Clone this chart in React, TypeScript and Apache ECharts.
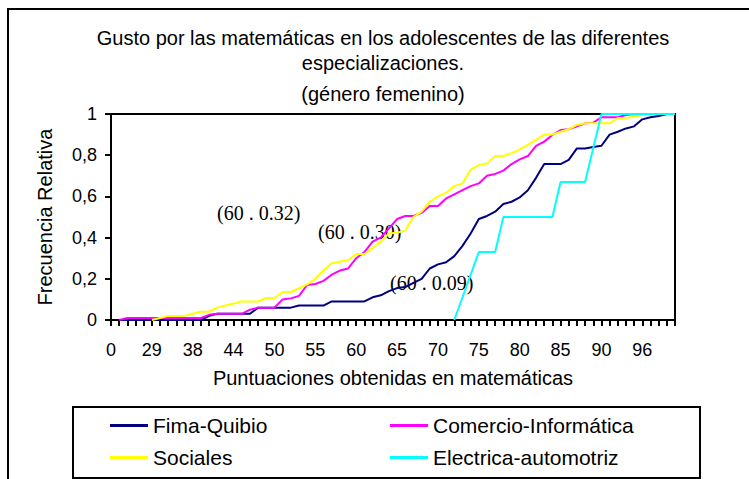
import React, { useEffect, useRef } from "react";
import * as echarts from "echarts";

const categories = [
  "0", "20", "24", "26", "28", "29", "31", "33", "35", "36",
  "38", "39", "40", "41", "43", "44", "45", "46", "47", "48",
  "50", "51", "52", "53", "54", "55", "56", "57", "58", "59",
  "60", "61", "62", "63", "64", "65", "66", "67", "68", "69",
  "70", "71", "72", "73", "74", "75", "76", "77", "78", "79",
  "80", "81", "82", "83", "84", "85", "86", "87", "88", "89",
  "90", "91", "92", "93", "95", "96", "97", "98", "99", "100",
];

const fimaQuibio = [
  null, 0, 0, 0, 0, 0, 0, 0, 0, 0,
  0, 0, 0.02, 0.03, 0.03, 0.03, 0.03, 0.03, 0.06, 0.06,
  0.06, 0.06, 0.06, 0.07, 0.07, 0.07, 0.07, 0.09, 0.09, 0.09,
  0.09, 0.09, 0.11, 0.12, 0.14, 0.155, 0.16, 0.18, 0.2, 0.25,
  0.27, 0.28, 0.31, 0.36, 0.42, 0.49, 0.505, 0.526, 0.563, 0.574,
  0.595, 0.63, 0.69, 0.757, 0.757, 0.757, 0.777, 0.833, 0.833, 0.84,
  0.846, 0.9, 0.914, 0.93, 0.94, 0.974, 0.984, 0.99, 1, 1,
];

const comercioInformatica = [
  null, 0, 0.01, 0.01, 0.01, 0.01, 0.01, 0.01, 0.01, 0.01,
  0.01, 0.01, 0.025, 0.03, 0.03, 0.03, 0.03, 0.05, 0.06, 0.06,
  0.06, 0.1, 0.105, 0.117, 0.17, 0.175, 0.19, 0.22, 0.24, 0.25,
  0.3, 0.33, 0.38, 0.4, 0.445, 0.49, 0.505, 0.505, 0.52, 0.553,
  0.553, 0.59, 0.61, 0.63, 0.65, 0.663, 0.7, 0.709, 0.725, 0.757,
  0.78, 0.796, 0.845, 0.866, 0.898, 0.922, 0.926, 0.94, 0.955, 0.958,
  0.984, 0.984, 0.984, 0.995, 1, 1, 1, 1, 1, 1,
];

const sociales = [
  null, null, null, null, null, 0, 0.01, 0.02, 0.02, 0.02,
  0.03, 0.04, 0.04, 0.06, 0.07, 0.08, 0.09, 0.09, 0.09, 0.107,
  0.107, 0.136, 0.136, 0.154, 0.173, 0.2, 0.24, 0.275, 0.283, 0.29,
  0.32, 0.32, 0.35, 0.38, 0.42, 0.424, 0.434, 0.5, 0.526, 0.574,
  0.6, 0.618, 0.65, 0.663, 0.73, 0.752, 0.76, 0.796, 0.796, 0.81,
  0.828, 0.85, 0.874, 0.9, 0.9, 0.914, 0.926, 0.947, 0.955, 0.955,
  0.955, 0.955, 0.98, 0.98, 0.987, 0.995, 1, 1, 1, 1,
];

const electricaAutomotriz = [
  null, null, null, null, null, null, null, null, null, null,
  null, null, null, null, null, null, null, null, null, null,
  null, null, null, null, null, null, null, null, null, null,
  null, null, null, null, null, null, null, null, null, null,
  null, null, 0, null, null, 0.33, null, 0.33, 0.5, null,
  null, null, null, null, 0.5, 0.67, null, null, 0.67, null,
  1, null, null, null, null, null, null, null, null, 1,
];

const seriesNames = ["Fima-Quibio", "Comercio-Informática", "Sociales", "Electrica-automotriz"];
const seriesColors = ["#000080", "#FF00FF", "#FFFF00", "#00FFFF"];
const annotations = ["(60 . 0.32)", "(60 . 0.30)", "(60 . 0.09)"];
const titleLines = [
  "Gusto por las matemáticas en los adolescentes de las diferentes",
  "especializaciones.",
  "(género femenino)",
];

const SANS = "'Liberation Sans', Arial, sans-serif";
const SERIF = "'Liberation Serif', 'Times New Roman', serif";

export default function App() {
  const ref = useRef<HTMLDivElement>(null);
  useEffect(() => {
    if (!ref.current) return;
    const chart = echarts.init(ref.current, null, { renderer: "svg" });
    const data = [fimaQuibio, comercioInformatica, sociales, electricaAutomotriz];
    const legendText = { fontFamily: SANS, fontSize: 21, color: "#000" };
    chart.setOption({
      animation: false,
      backgroundColor: "#fff",
      title: [
        {
          text: titleLines[0] + "\n" + titleLines[1],
          left: 383,
          top: 25,
          padding: 0,
          textAlign: "center",
          textStyle: { fontFamily: SANS, fontSize: 20, fontWeight: "normal", color: "#000", lineHeight: 25 },
        },
        {
          text: titleLines[2],
          left: 383,
          top: 83,
          padding: 0,
          textAlign: "center",
          textStyle: { fontFamily: SANS, fontSize: 20, fontWeight: "normal", color: "#000", lineHeight: 22 },
        },
      ],
      grid: { left: 111, top: 114, width: 564, height: 206, show: true, borderColor: "#000", borderWidth: 2, containLabel: false },
      legend: [
        {
          data: [seriesNames[0], seriesNames[2]],
          orient: "vertical",
          left: 110,
          top: 415,
          padding: 0,
          icon: "rect",
          itemWidth: 38,
          itemHeight: 3,
          itemGap: 11,
          textStyle: legendText,
        },
        {
          data: [seriesNames[1], seriesNames[3]],
          orient: "vertical",
          left: 390,
          top: 415,
          padding: 0,
          icon: "rect",
          itemWidth: 38,
          itemHeight: 3,
          itemGap: 11,
          textStyle: legendText,
        },
      ],
      xAxis: {
        type: "category",
        data: categories,
        boundaryGap: false,
        axisLine: { lineStyle: { color: "#000", width: 2 } },
        axisTick: { interval: 0, length: 6, lineStyle: { color: "#000", width: 2 } },
        axisLabel: { interval: 4, margin: 21, fontFamily: SANS, fontSize: 18, color: "#000" },
        splitLine: { show: false },
      },
      yAxis: {
        type: "value",
        min: 0,
        max: 1,
        interval: 0.2,
        axisLine: { show: true, lineStyle: { color: "#000", width: 2 } },
        axisTick: { show: true, length: 6, lineStyle: { color: "#000", width: 2 } },
        axisLabel: {
          margin: 14,
          fontFamily: SANS,
          fontSize: 18,
          color: "#000",
          formatter: (v: number) => (v === 0 ? "0" : v === 1 ? "1" : v.toFixed(1).replace(".", ",")),
        },
        splitLine: { show: false },
      },
      series: data.map((d, i) => ({
        name: seriesNames[i],
        type: "line",
        data: d,
        symbol: "none",
        connectNulls: true,
        color: seriesColors[i],
        lineStyle: { color: seriesColors[i], width: 2 },
      })),
      graphic: [
        { type: "rect", shape: { x: 8, y: 9, width: 800, height: 520 }, style: { fill: "none", stroke: "#000", lineWidth: 2 }, silent: true },
        { type: "rect", shape: { x: 73, y: 407, width: 627, height: 71 }, style: { fill: "none", stroke: "#000", lineWidth: 2 }, silent: true },
        {
          type: "text",
          x: 45,
          y: 217,
          rotation: Math.PI / 2,
          style: { text: "Frecuencia Relativa", fontFamily: SANS, fontSize: 20, fill: "#000", align: "center", verticalAlign: "middle" },
        },
        {
          type: "text",
          x: 393,
          y: 378,
          style: { text: "Puntuaciones obtenidas en matemáticas", fontFamily: SANS, fontSize: 20, fill: "#000", align: "center", verticalAlign: "middle" },
        },
        { type: "text", x: 217, y: 213, style: { text: annotations[0], fontFamily: SERIF, fontSize: 20, fill: "#000", align: "left", verticalAlign: "middle" }, z: 1 },
        { type: "text", x: 318, y: 232, style: { text: annotations[1], fontFamily: SERIF, fontSize: 20, fill: "#000", align: "left", verticalAlign: "middle" }, z: 1 },
        { type: "text", x: 390, y: 283, style: { text: annotations[2], fontFamily: SERIF, fontSize: 20, fill: "#000", align: "left", verticalAlign: "middle" }, z: 1 },
      ],
    });
    return () => chart.dispose();
  }, []);
  return <div ref={ref} style={{ position: "fixed", left: 0, top: 0, width: 749, height: 479 }} />;
}
